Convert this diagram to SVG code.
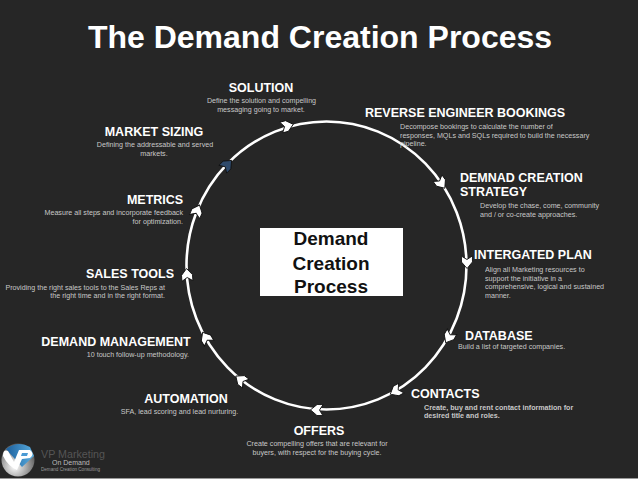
<svg xmlns="http://www.w3.org/2000/svg" width="638" height="479" viewBox="0 0 638 479">
<style>
text{font-family:"Liberation Sans",Arial,sans-serif;opacity:.999}
.h{font-size:12.5px;font-weight:bold;fill:#fff}
.d{font-size:7.15px;fill:#c8c8c8}
.a{fill:#fff;stroke:#111;stroke-width:.9}
.c{font-size:19px;font-weight:bold;fill:#111}
</style>
<defs><path id="ah" d="M6.5,0 L0,-5.5 L-6,-5.5 L-2.5,0 L-6,5.5 L0,5.5 Z"/></defs>
<rect width="638" height="479" fill="#262626"/>
<rect y="478" width="638" height="1" fill="#999"/>
<text x="320" y="48" text-anchor="middle" style="font-size:32px;font-weight:bold;fill:#fff">The Demand Creation Process</text>
<g id="connectors">
<ellipse cx="326.5" cy="265.5" rx="140" ry="144" fill="none" stroke="#fff" stroke-width="2.6"/>
<use href="#ah" class="a" transform="translate(287,126) rotate(-15)"/>
<use href="#ah" class="a" transform="translate(441,183) rotate(54)"/>
<use href="#ah" class="a" transform="translate(467,262) rotate(89)"/>
<use href="#ah" class="a" transform="translate(449,337) rotate(120)"/>
<use href="#ah" class="a" transform="translate(396,391) rotate(151)"/>
<use href="#ah" class="a" transform="translate(317,410) rotate(181)"/>
<use href="#ah" class="a" transform="translate(241,380) rotate(217)"/>
<use href="#ah" class="a" transform="translate(206,338) rotate(239)"/>
<use href="#ah" class="a" transform="translate(187,275) rotate(266)"/>
<use href="#ah" class="a" transform="translate(197,211) rotate(293)"/>
<use href="#ah" transform="translate(227,165) rotate(315)" style="fill:#2f4a6b;stroke:#111;stroke-width:.9"/>
</g>
<g id="center"><rect x="260" y="228" width="143" height="68" fill="#fff"/>
<text class="c" x="331" y="245" text-anchor="middle">Demand</text>
<text class="c" x="331" y="270" text-anchor="middle">Creation</text>
<text class="c" x="331" y="293" text-anchor="middle">Process</text></g>
<g id="solution"><text class="h" x="261" y="92" text-anchor="middle">SOLUTION</text>
<text class="d" x="261.5" y="103" text-anchor="middle">Define the solution and compelling</text>
<text class="d" x="261" y="112" text-anchor="middle">messaging going to market.</text></g>
<g id="reverse"><text class="h" x="365" y="117">REVERSE ENGINEER BOOKINGS</text>
<text class="d" x="400" y="129">Decompose bookings to calculate the number of</text>
<text class="d" x="400" y="138">responses, MQLs and SQLs required to build the necessary</text>
<text class="d" x="400" y="146">pipeline.</text></g>
<g id="strategy"><text class="h" x="460" y="182">DEMNAD CREATION</text>
<text class="h" x="460" y="196">STRATEGY</text>
<text class="d" x="480" y="208">Develop the chase, come, community</text>
<text class="d" x="480" y="217">and / or co-create approaches.</text></g>
<g id="plan"><text class="h" x="474" y="259">INTERGATED PLAN</text>
<text class="d" x="485" y="272">Align all Marketing resources to</text>
<text class="d" x="485" y="281">support the initiative in a</text>
<text class="d" x="485" y="289">comprehensive, logical and sustained</text>
<text class="d" x="485" y="298">manner.</text></g>
<g id="database"><text class="h" x="465" y="340">DATABASE</text>
<text class="d" x="458" y="349">Build a list of targeted companies.</text></g>
<g id="contacts"><text class="h" x="411" y="398">CONTACTS</text>
<text class="d" x="424" y="410" font-weight="bold">Create, buy and rent contact information for</text>
<text class="d" x="424" y="418" font-weight="bold">desired title and roles.</text></g>
<g id="offers"><text class="h" x="319" y="435" text-anchor="middle">OFFERS</text>
<text class="d" x="317" y="446" text-anchor="middle">Create compelling offers that are relevant for</text>
<text class="d" x="317" y="455" text-anchor="middle">buyers, with respect for the buying cycle.</text></g>
<g id="automation"><text class="h" x="186" y="403" text-anchor="middle">AUTOMATION</text>
<text class="d" x="179.5" y="414" text-anchor="middle">SFA, lead scoring and lead nurturing.</text></g>
<g id="demand-management"><text class="h" x="116" y="346" text-anchor="middle">DEMAND MANAGEMENT</text>
<text class="d" x="189" y="357" text-anchor="end">10 touch follow-up methodology.</text></g>
<g id="sales-tools"><text class="h" x="130" y="278" text-anchor="middle">SALES TOOLS</text>
<text class="d" x="165" y="290" text-anchor="end">Providing the right sales tools to the Sales Reps at</text>
<text class="d" x="165" y="298" text-anchor="end">the right time and in the right format.</text></g>
<g id="metrics"><text class="h" x="155" y="204" text-anchor="middle">METRICS</text>
<text class="d" x="183" y="215" text-anchor="end">Measure all steps and incorporate feedback</text>
<text class="d" x="183" y="224" text-anchor="end">for optimization.</text></g>
<g id="market-sizing"><text class="h" x="154" y="136" text-anchor="middle">MARKET SIZING</text>
<text class="d" x="155" y="147" text-anchor="middle">Defining the addressable and served</text>
<text class="d" x="154" y="156" text-anchor="middle">markets.</text></g>
<g id="logo">
<defs><radialGradient id="g" cx=".4" cy=".7" r=".7"><stop offset="0" stop-color="#fff"/><stop offset="1" stop-color="#555"/></radialGradient>
<linearGradient id="b" x1="0" y1="0" x2="1" y2="0"><stop offset="0" stop-color="#1c5f9c"/><stop offset="1" stop-color="#5aaee0"/></linearGradient></defs>
<circle cx="18" cy="460" r="16.5" fill="url(#g)"/>
<path d="M6,449 Q18,440 30,447 L34,456 L22,467 Z" fill="url(#b)"/>
<path d="M3,456 Q3,449 8,451 L14,462 L19,450 L30,450 Q35,454 30,458 L22,459 L17,470 Q8,466 3,456 Z" fill="#fff"/>
<path d="M22,453 L28,453 L27,456 L21,456 Z" fill="#4a9ad4"/>
<text x="41" y="458" style="font-size:10.7px;fill:#555">VP Marketing</text>
<text x="52" y="465" style="font-size:7px;fill:#bbb">On Demand</text>
<text x="41" y="471" style="font-size:4.6px;fill:#999">Demand Creation Consulting</text></g>
</svg>
